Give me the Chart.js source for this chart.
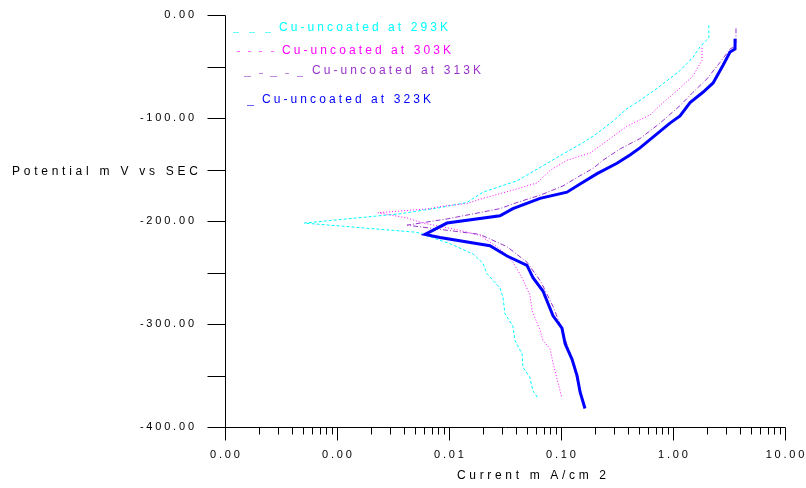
<!DOCTYPE html>
<html>
<head>
<meta charset="utf-8">
<script src="https://cdn.jsdelivr.net/npm/chart.js@4/dist/chart.umd.min.js"></script>
<style>
    html, body { margin: 0; padding: 0; background: #fff; }
    #wrap { width: 806px; height: 488px; position: relative; }
</style>
</head>
<body>
<div id="wrap"><canvas id="tafel"></canvas></div>
<script>
// current density (mA/cm2) and potential (mV vs SCE)
const cur293 = [2.09, 2.09, 1.74, 1.51, 1.155, 0.766, 0.507, 0.388, 0.291, 0.21, 0.157, 0.104, 0.065, 0.0405, 0.0201, 0.0145, 0.0083, 0.00365, 0.00051, 0.00518, 0.0102, 0.0164, 0.0201, 0.0218, 0.0285, 0.0303, 0.0316, 0.0372, 0.0388, 0.0449, 0.0458, 0.0528, 0.0562, 0.0624];
const pot293 = [-10, -22, -31, -41, -54, -69, -83, -91, -103, -115, -124, -135, -148, -161, -172, -182, -187, -193, -202, -211, -222, -232, -241, -251, -265, -274, -290, -302, -316, -329, -342, -352, -365, -372];

const cur303 = [1.815, 1.815, 1.51, 1.155, 0.815, 0.624, 0.388, 0.274, 0.182, 0.113, 0.0798, 0.0611, 0.0372, 0.0201, 0.0145, 0.0083, 0.00676, 0.00232, 0.00422, 0.00586, 0.0125, 0.0189, 0.0285, 0.0372, 0.0449, 0.0528, 0.0551, 0.065, 0.069, 0.0798, 0.0849, 0.092, 0.102];
const pot303 = [-32, -44, -59, -71, -85, -97, -108, -120, -134, -141, -151, -163, -170, -178, -183, -186, -188, -192, -197, -202, -209, -214, -227, -240, -255, -272, -287, -306, -316, -324, -338, -353, -372];

const cur313 = [3.65, 3.65, 3.23, 2.63, 2.01, 1.51, 1.155, 0.766, 0.507, 0.337, 0.237, 0.193, 0.148, 0.104, 0.065, 0.0405, 0.0285, 0.0096, 0.00422, 0.00586, 0.0096, 0.0189, 0.033, 0.0497, 0.0662, 0.0849, 0.102, 0.128, 0.142, 0.154];
const pot313 = [-13, -30, -33, -46, -62, -75, -88, -105, -120, -130, -141, -149, -156, -166, -175, -182, -188, -198, -204, -206, -209, -213, -225, -240, -259, -283, -305, -338, -358, -374];

const cur323 = [3.58, 3.58, 3.23, 2.79, 2.28, 1.85, 1.42, 1.155, 0.94, 0.507, 0.413, 0.316, 0.21, 0.148, 0.113, 0.065, 0.0372, 0.0285, 0.0096, 0.0061, 0.0083, 0.0232, 0.033, 0.0497, 0.0562, 0.069, 0.0849, 0.102, 0.1087, 0.1253, 0.139, 0.148, 0.1637];
const pot323 = [-23, -33, -36, -49, -66, -75, -85, -98, -105, -129, -136, -144, -154, -164, -172, -178, -188, -195, -202, -213, -216, -224, -234, -243, -255, -268, -292, -304, -319, -334, -350, -366, -382];

const yTicks = [0, -100, -200, -300, -400];
const yTickLabels = ['0.00', '-100.00', '-200.00', '-300.00', '-400.00'];
const xTicks = [0.0001, 0.001, 0.01, 0.1, 1, 10];
const xTickLabels = ['0.00', '0.00', '0.01', '0.10', '1.00', '10.00'];

const seriesNames = ['Cu-uncoated at 293K', 'Cu-uncoated at 303K', 'Cu-uncoated at 313K', 'Cu-uncoated at 323K'];
const seriesColors = ['#00ffff', '#ff00ff', '#9933cc', '#0000ff'];

const FONT = '"Liberation Sans", Arial, sans-serif';

function pairs(xs, ys) {
    return xs.map((x, i) => ({ x: x, y: ys[i] }));
}

// draws text one char at a time so it can be spread to a given width
function spacedText(ctx, text, x, y, size, width, align) {
    ctx.font = size + 'px ' + FONT;
    const chars = text.split('');
    const plain = chars.reduce((s, c) => s + ctx.measureText(c).width, 0);
    const gap = chars.length > 1 ? (width - plain) / (chars.length - 1) : 0;
    let start = x;
    if (align === 'right') start = x - width;
    if (align === 'center') start = x - width / 2;
    ctx.textAlign = 'left';
    ctx.textBaseline = 'middle';
    chars.forEach(c => {
        ctx.fillText(c, start, y);
        start += ctx.measureText(c).width + gap;
    });
}

function tickText(ctx, text, x, y, align) {
    ctx.font = '11px ' + FONT;
    const w = ctx.measureText(text).width + 2.8 * (text.length - 1);
    spacedText(ctx, text, x, y, 11, w, align);
}

const axesAndLegend = {
    id: 'axesAndLegend',
    afterDraw(chart) {
        const ctx = chart.ctx;
        const xs = chart.scales.x;
        const ys = chart.scales.y;
        const left = Math.round(xs.getPixelForValue(0.0001)) + 0.5;
        const bottom = Math.round(ys.getPixelForValue(-400)) + 0.5;
        const top = Math.round(ys.getPixelForValue(0)) + 0.5;
        const right = Math.round(xs.getPixelForValue(10)) + 0.5;

        ctx.save();
        ctx.strokeStyle = '#000';
        ctx.fillStyle = '#000';
        ctx.lineWidth = 1;
        ctx.setLineDash([]);

        // axis lines
        ctx.beginPath();
        ctx.moveTo(left, top);
        ctx.lineTo(left, bottom);
        ctx.lineTo(right, bottom);
        ctx.stroke();

        // y ticks every 50 mV
        for (let v = 0; v >= -400; v -= 50) {
            const py = Math.round(ys.getPixelForValue(v)) + 0.5;
            ctx.beginPath();
            ctx.moveTo(left - 18, py);
            ctx.lineTo(left, py);
            ctx.stroke();
        }
        yTicks.forEach((v, i) => {
            tickText(ctx, yTickLabels[i], 194, ys.getPixelForValue(v), 'right');
        });

        // x ticks, decades long and 2..9 short
        for (let d = -4; d <= 1; d++) {
            for (let m = 1; m <= 9; m++) {
                const v = m * Math.pow(10, d);
                if (v > 10.0001) break;
                const px = Math.round(xs.getPixelForValue(v)) + 0.5;
                ctx.beginPath();
                ctx.moveTo(px, bottom);
                ctx.lineTo(px, bottom + (m === 1 ? 13 : 7));
                ctx.stroke();
            }
        }
        xTicks.forEach((v, i) => {
            tickText(ctx, xTickLabels[i], xs.getPixelForValue(v), 455, 'center');
        });

        // axis titles
        spacedText(ctx, 'Potential m V vs SEC', 12, 172, 12, 186, 'left');
        spacedText(ctx, 'Current m A/cm 2', 457, 476, 12, 149, 'left');

        // legend
        const legendText = [[279, 28], [282, 51], [312, 71], [262, 100]];
        seriesNames.forEach((name, i) => {
            ctx.fillStyle = seriesColors[i];
            spacedText(ctx, name, legendText[i][0], legendText[i][1], 12, 169, 'left');
        });
        const segs = [
            [[233, 239, 32], [249, 255, 32], [265, 271, 32]],
            [[237, 240, 51], [248, 251, 51], [259, 262, 51], [271, 274, 51]],
            [[244, 251, 76], [259, 263, 73], [270, 277, 76], [285, 289, 73], [297, 303, 76]],
            [[247, 254, 105]]
        ];
        segs.forEach((list, i) => {
            ctx.strokeStyle = seriesColors[i];
            ctx.globalAlpha = 0.6;
            list.forEach(s => {
                ctx.beginPath();
                ctx.moveTo(s[0], s[2] + 0.5);
                ctx.lineTo(s[1], s[2] + 0.5);
                ctx.stroke();
            });
        });
        ctx.restore();
    }
};

new Chart(document.getElementById('tafel'), {
    type: 'scatter',
    data: {
        datasets: [
            { label: seriesNames[0], data: pairs(cur293, pot293), borderColor: seriesColors[0], borderWidth: 1, borderDash: [3, 2], order: 3 },
            { label: seriesNames[1], data: pairs(cur303, pot303), borderColor: seriesColors[1], borderWidth: 1, borderDash: [1, 2], order: 2 },
            { label: seriesNames[2], data: pairs(cur313, pot313), borderColor: seriesColors[2], borderWidth: 1, borderDash: [5, 2, 1, 2], order: 1 },
            { label: seriesNames[3], data: pairs(cur323, pot323), borderColor: seriesColors[3], borderWidth: 3, order: 0 }
        ].map(ds => Object.assign(ds, { showLine: true, pointRadius: 0, tension: 0, fill: false }))
    },
    options: {
        responsive: true,
        maintainAspectRatio: false,
        animation: false,
        layout: { padding: { left: 225, right: 21, top: 15, bottom: 61 } },
        plugins: { legend: { display: false }, tooltip: { enabled: false } },
        scales: {
            x: { type: 'logarithmic', min: 0.0001, max: 10, display: false },
            y: { type: 'linear', min: -400, max: 0, display: false }
        }
    },
    plugins: [axesAndLegend]
});
</script>
</body>
</html>
